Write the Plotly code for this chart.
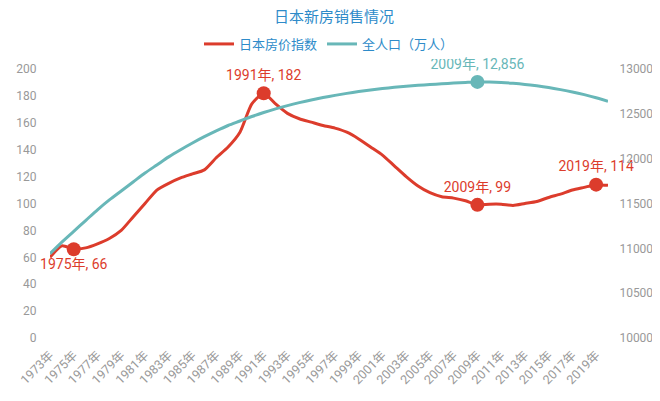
import plotly.graph_objects as go

years = list(range(1973, 2021))
x_labels = [f"{y}年" for y in years]

# 日本房价指数
price_index = [60, 68.5, 66, 67, 70, 74, 80, 90, 100, 110, 115, 119, 122, 125,
               134, 142, 153, 174, 182, 174, 167, 163, 160.5, 158, 156, 153,
               148, 142, 136, 128, 120, 113, 108, 105, 104, 102, 99, 99.5, 99.5,
               98.5, 100, 101.5, 104.5, 107, 110, 112, 114, 113.5]

# 全人口（万人）
population = [10940, 11070, 11190, 11310, 11430, 11540, 11640, 11740, 11840,
              11930, 12020, 12100, 12175, 12245, 12310, 12370, 12420, 12470,
              12515, 12555, 12592, 12625, 12655, 12682, 12706, 12728, 12748,
              12766, 12782, 12796, 12808, 12818, 12827, 12835, 12843, 12850,
              12856, 12854, 12849, 12840, 12828, 12812, 12793, 12770, 12744,
              12714, 12680, 12640]

tick_years = years[:-1:2]
tick_text = [f"{y}年" for y in tick_years]

price_marks = [1975, 1991, 2009, 2019]
price_pos = ["bottom center", "top center", "top center", "top center"]
pop_marks = [2009]

RED = "#dc3c2c"
TEAL = "#68b7b8"
BLUE = "#2e8bc9"
GRAY = "#999999"
FONT = "Roboto, Noto Sans CJK SC"

fig = go.Figure()

fig.add_trace(go.Scatter(
    x=years, y=price_index, name="日本房价指数", mode="lines",
    line=dict(color=RED, width=3, shape="spline", smoothing=0.6),
))
fig.add_trace(go.Scatter(
    x=years, y=population, name="全人口（万人）", mode="lines", yaxis="y2",
    line=dict(color=TEAL, width=3, shape="spline", smoothing=0.8),
))

pv = [price_index[years.index(y)] for y in price_marks]
fig.add_trace(go.Scatter(
    x=price_marks, y=pv, mode="markers+text", showlegend=False,
    marker=dict(color=RED, size=14),
    text=[f"{y}年, {v:g}" for y, v in zip(price_marks, pv)],
    textposition=price_pos, textfont=dict(color=RED, size=14, family=FONT),
    cliponaxis=False,
))

qv = [population[years.index(y)] for y in pop_marks]
fig.add_trace(go.Scatter(
    x=pop_marks, y=qv, mode="markers+text", showlegend=False, yaxis="y2",
    marker=dict(color=TEAL, size=14),
    text=[f"{y}年, {v:,}" for y, v in zip(pop_marks, qv)],
    textposition="top center", textfont=dict(color=TEAL, size=14, family=FONT),
    cliponaxis=False,
))

# page body has an 8px margin, so the figure is sized/offset to fit the window
fig.update_layout(
    width=652, height=393,
    margin=dict(l=42, r=52, t=61, b=63),
    paper_bgcolor="white", plot_bgcolor="white",
    font=dict(family=FONT, color=GRAY, size=12),
    title=dict(text="日本新房销售情况", x=0.5, xanchor="center", y=0.977,
               yanchor="middle", font=dict(color=BLUE, size=15, family=FONT)),
    legend=dict(orientation="h", x=0.5, xanchor="center", y=1.093,
                yanchor="middle", font=dict(color=BLUE, size=13, family=FONT),
                itemwidth=30, tracegroupgap=0),
    xaxis=dict(range=[1973, 2020], tickvals=tick_years, ticktext=tick_text,
               tickangle=-45, showgrid=False, zeroline=False, showline=False,
               ticks="outside", ticklen=4, tickcolor="rgba(0,0,0,0)",
               automargin=False, tickfont=dict(color=GRAY, size=12.5)),
    yaxis=dict(range=[0, 200], dtick=20, showgrid=False, zeroline=False,
               showline=False, ticks="outside", ticklen=10,
               tickcolor="rgba(0,0,0,0)", automargin=False,
               tickfont=dict(color=GRAY, size=12)),
    yaxis2=dict(range=[10000, 13000], dtick=500, overlaying="y", side="right",
                showgrid=False, zeroline=False, showline=False,
                tickformat="d", ticks="outside", ticklen=8,
                tickcolor="rgba(0,0,0,0)", automargin=False,
                tickfont=dict(color=GRAY, size=12)),
)

fig.write_html("out.html")
